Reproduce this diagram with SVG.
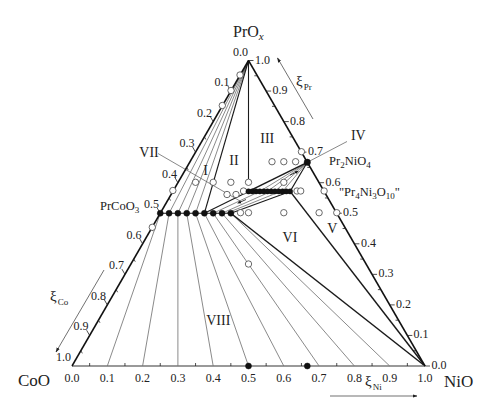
<svg xmlns="http://www.w3.org/2000/svg" width="484" height="410" viewBox="0 0 484 410">
<defs>
<style>
text{font-family:"Liberation Serif","Times New Roman",serif;fill:#222}
.tk{font-size:12px}
.ttl{font-size:17px}
.reg{font-size:14px}
.cmp{font-size:12.5px}
.thin{stroke:#3a3a3a;stroke-width:0.6;fill:none}
.bold{stroke:#1a1a1a;stroke-width:1.5;fill:none}
.med{stroke:#1a1a1a;stroke-width:1.1;fill:none}
.lead{stroke:#555;stroke-width:0.7;fill:none}
.tick{stroke:#222;stroke-width:0.8}
.oc{fill:#fff;stroke:#444;stroke-width:0.8}
.fd{fill:#111;stroke:#111;stroke-width:0.5}
</style>
<marker id="ah" viewBox="0 0 10 10" refX="9" refY="5" markerWidth="7" markerHeight="7" orient="auto-start-reverse">
<path d="M0,1.5 L10,5 L0,8.5 z" fill="#222"/>
</marker>
<marker id="sm" viewBox="0 0 10 10" refX="5" refY="5" markerWidth="5" markerHeight="5" orient="auto">
<path d="M0,1 L10,5 L0,9 z" fill="#111"/>
</marker>
</defs>

<g id="connectors">
<!-- apex fan (region I) -->
<g class="thin">
<line x1="248.5" y1="60.5" x2="169.08" y2="213.25"/>
<line x1="248.5" y1="60.5" x2="177.9" y2="213.25"/>
<line x1="248.5" y1="60.5" x2="186.73" y2="213.25"/>
<line x1="248.5" y1="60.5" x2="195.55" y2="213.25"/>
</g>
<line class="med" x1="248.5" y1="60.5" x2="204.38" y2="213.25"/>
<!-- lower fan (region VIII) -->
<g class="thin">
<line x1="160.25" y1="213.25" x2="107.3" y2="366"/>
<line x1="169.08" y1="213.25" x2="142.6" y2="366"/>
<line x1="177.9" y1="213.25" x2="177.9" y2="366"/>
<line x1="186.73" y1="213.25" x2="213.2" y2="366"/>
<line x1="195.55" y1="213.25" x2="248.5" y2="366"/>
<line x1="204.38" y1="213.25" x2="283.8" y2="366"/>
<line x1="213.2" y1="213.25" x2="319.1" y2="366"/>
<line x1="222.03" y1="213.25" x2="354.4" y2="366"/>
<line x1="230.85" y1="213.25" x2="389.7" y2="366"/>
</g>
<!-- vertical Co=Ni line -->
<line class="med" x1="248.5" y1="60.5" x2="248.5" y2="179"/>
<!-- solid-solution rows -->
<line class="med" x1="160.25" y1="213.25" x2="230.85" y2="213.25"/>
<line class="med" x1="248.5" y1="191.4" x2="290.12" y2="191.4"/>
<!-- region VII tie lines -->
<g class="thin">
<line x1="213.2" y1="213.25" x2="259.85" y2="191.4"/>
<line x1="222.03" y1="213.25" x2="271.2" y2="191.4"/>
<line x1="226.4" y1="213.25" x2="280.7" y2="191.4"/>
</g>
<line class="med" x1="204.38" y1="213.25" x2="248.5" y2="191.4"/>
<line class="med" x1="230.85" y1="213.25" x2="290.12" y2="191.4"/>
<line x1="246" y1="199.5" x2="239" y2="202.7" stroke="#111" stroke-width="0.8" marker-end="url(#sm)"/>
<!-- region IV tie lines -->
<g class="thin">
<line x1="307.3" y1="162.3" x2="259.85" y2="191.4"/>
<line x1="307.3" y1="162.3" x2="267.42" y2="191.4"/>
<line x1="307.3" y1="162.3" x2="274.98" y2="191.4"/>
<line x1="307.3" y1="162.3" x2="282.55" y2="191.4"/>
</g>
<line class="bold" x1="248.5" y1="191.4" x2="307.3" y2="162.3"/>
<line class="med" x1="290.12" y1="191.4" x2="307.3" y2="162.3"/>
<line x1="290" y1="175.2" x2="297" y2="171.8" stroke="#111" stroke-width="0.8" marker-end="url(#sm)"/>
<!-- boundaries to NiO -->
<line class="bold" x1="230.85" y1="213.25" x2="425" y2="366"/>
<line class="bold" x1="290.12" y1="191.4" x2="425" y2="366"/>
<!-- leaders -->
<line class="lead" x1="158" y1="153.5" x2="240" y2="201"/>
<line class="lead" x1="347" y1="141.5" x2="307.3" y2="162.3"/>
</g>

<g id="axes">
<line x1="72" y1="366" x2="425" y2="366" stroke="#777" stroke-width="1.3"/>
<line x1="72" y1="366" x2="248.5" y2="60.5" stroke="#111" stroke-width="1.5"/>
<line x1="425" y1="366" x2="248.5" y2="60.5" stroke="#111" stroke-width="1.5"/>
<!-- left ticks -->
<g class="tick">
<path d="M230.85,91.05 l-3,-5.2 M213.2,121.6 l-3,-5.2 M195.55,152.15 l-3,-5.2 M177.9,182.7 l-3,-5.2 M160.25,213.25 l-3,-5.2 M142.6,243.8 l-3,-5.2 M124.95,274.35 l-3,-5.2 M107.3,304.9 l-3,-5.2 M89.65,335.45 l-3,-5.2"/>
<path d="M239.68,75.78 l1.5,2.6 M222.03,106.33 l1.5,2.6 M204.38,136.88 l1.5,2.6 M186.73,167.43 l1.5,2.6 M169.08,197.98 l1.5,2.6 M151.43,228.53 l1.5,2.6 M133.78,259.08 l1.5,2.6 M116.13,289.63 l1.5,2.6 M98.48,320.18 l1.5,2.6 M80.83,350.73 l1.5,2.6"/>
<!-- right ticks -->
<path d="M248.5,60.5 h5 M266.15,91.05 h5 M283.8,121.6 h5 M301.45,152.15 h5 M319.1,182.7 h5 M336.75,213.25 h5 M354.4,243.8 h5 M372.05,274.35 h5 M389.7,304.9 h5 M407.35,335.45 h5 M425,366 h5"/>
<path d="M257.33,75.78 h-3 M274.98,106.33 h-3 M292.63,136.88 h-3 M310.28,167.43 h-3 M327.93,197.98 h-3 M345.58,228.53 h-3 M363.23,259.08 h-3 M380.88,289.63 h-3 M398.53,320.18 h-3 M416.18,350.73 h-3"/>
<!-- bottom ticks -->
<path d="M89.65,366 v-3 M124.95,366 v-3 M160.25,366 v-3 M195.55,366 v-3 M230.85,366 v-3 M266.15,366 v-3 M301.45,366 v-3 M336.75,366 v-3 M372.05,366 v-3 M407.35,366 v-3"/>
</g>
<!-- left labels -->
<g class="tk" text-anchor="end">
<text x="248" y="55.5">0.0</text>
<text x="229.5" y="86">0.1</text>
<text x="212" y="116.5">0.2</text>
<text x="194.5" y="147">0.3</text>
<text x="177" y="177.5">0.4</text>
<text x="159" y="208">0.5</text>
<text x="141.5" y="238.5">0.6</text>
<text x="124" y="269">0.7</text>
<text x="106" y="299.5">0.8</text>
<text x="88.5" y="330">0.9</text>
<text x="71" y="361">1.0</text>
</g>
<!-- right labels -->
<g class="tk">
<text x="255" y="63.5">1.0</text>
<text x="272.5" y="94">0.9</text>
<text x="290" y="124.5">0.8</text>
<text x="308" y="155">0.7</text>
<text x="325.5" y="185.5">0.6</text>
<text x="343" y="216">0.5</text>
<text x="361" y="246.5">0.4</text>
<text x="378.5" y="277">0.3</text>
<text x="396" y="307.5">0.2</text>
<text x="413.5" y="338">0.1</text>
<text x="431.5" y="369">0.0</text>
</g>
<!-- bottom labels -->
<g class="tk" text-anchor="middle">
<text x="72" y="381.5">0.0</text>
<text x="107.3" y="381.5">0.1</text>
<text x="142.6" y="381.5">0.2</text>
<text x="177.9" y="381.5">0.3</text>
<text x="213.2" y="381.5">0.4</text>
<text x="248.5" y="381.5">0.5</text>
<text x="283.8" y="381.5">0.6</text>
<text x="319.1" y="381.5">0.7</text>
<text x="354.4" y="381.5">0.8</text>
<text x="389.7" y="381.5">0.9</text>
<text x="425" y="381.5">1.0</text>
</g>
<!-- xi arrows -->
<line x1="313" y1="119" x2="277.5" y2="58" stroke="#333" stroke-width="0.7" marker-end="url(#ah)"/>
<line x1="104" y1="270" x2="56" y2="352" stroke="#333" stroke-width="0.7" marker-end="url(#ah)"/>
<line x1="330" y1="396" x2="417" y2="396" stroke="#333" stroke-width="0.7" marker-end="url(#ah)"/>
<text x="296" y="86" style="font-size:15px">ξ<tspan dx="1" dy="4" style="font-size:9px">Pr</tspan></text>
<text x="50" y="301" style="font-size:15px">ξ<tspan dx="1" dy="4" style="font-size:9px">Co</tspan></text>
<text x="365" y="386" style="font-size:15px">ξ<tspan dx="1" dy="4" style="font-size:9px">Ni</tspan></text>
</g>

<g id="PrOx"><text x="233" y="36.5" style="font-size:16px">PrO<tspan dy="3" style="font-size:11px;font-style:italic">x</tspan></text></g>
<g id="CoO"><text class="ttl" x="18" y="385.5">CoO</text></g>
<g id="NiO"><text class="ttl" x="444" y="386.5">NiO</text></g>

<g id="open-circles">
<circle class="oc" cx="240" cy="75" r="3.2"/>
<circle class="oc" cx="231" cy="90.5" r="3.2"/>
<circle class="oc" cx="222.3" cy="105.5" r="3.2"/>
<circle class="oc" cx="172.86" cy="190.5" r="3.2"/>
<circle class="oc" cx="152.3" cy="227.3" r="3.2"/>
<circle class="oc" cx="195.55" cy="182.3" r="3.2"/>
<circle class="oc" cx="213.2" cy="182.3" r="3.2"/>
<circle class="oc" cx="230.85" cy="182.3" r="3.2"/>
<circle class="oc" cx="248.5" cy="182.3" r="3.2"/>
<circle class="oc" cx="283.8" cy="182.3" r="3.2"/>
<circle class="oc" cx="227" cy="194.5" r="3.2"/>
<circle class="oc" cx="236" cy="194.5" r="3.2"/>
<circle class="oc" cx="243.5" cy="191" r="3.2"/>
<circle class="oc" cx="272" cy="161.7" r="3.2"/>
<circle class="oc" cx="283.8" cy="161.7" r="3.2"/>
<circle class="oc" cx="295.6" cy="161.7" r="3.2"/>
<circle class="oc" cx="301.45" cy="151.7" r="3.2"/>
<circle class="oc" cx="297" cy="191" r="3.2"/>
<circle class="oc" cx="300.7" cy="191" r="3.2"/>
<circle class="oc" cx="324.1" cy="191" r="3.2"/>
<circle class="oc" cx="240.5" cy="212.7" r="3.2"/>
<circle class="oc" cx="248.5" cy="212.7" r="3.2"/>
<circle class="oc" cx="283.8" cy="212.7" r="3.2"/>
<circle class="oc" cx="319.1" cy="212.7" r="3.2"/>
<circle class="oc" cx="336.75" cy="212.7" r="3.2"/>
<circle class="oc" cx="248.5" cy="264" r="3.2"/>
</g>

<g id="PrCoO3-row">
<circle class="fd" cx="160.25" cy="213.25" r="3"/>
<circle class="fd" cx="169.08" cy="213.25" r="3"/>
<circle class="fd" cx="177.9" cy="213.25" r="3"/>
<circle class="fd" cx="186.73" cy="213.25" r="3"/>
<circle class="fd" cx="195.55" cy="213.25" r="3"/>
<circle class="fd" cx="204.38" cy="213.25" r="3"/>
<circle class="fd" cx="213.2" cy="213.25" r="3"/>
<circle class="fd" cx="222.03" cy="213.25" r="3"/>
<circle class="fd" cx="230.85" cy="213.25" r="3"/>
<text class="cmp" x="100" y="210">PrCoO<tspan dy="3" style="font-size:9px">3</tspan></text>
</g>

<g id="Pr4-row">
<circle class="fd" cx="248.5" cy="191.4" r="2.6"/>
<circle class="fd" cx="252.28" cy="191.4" r="2.6"/>
<circle class="fd" cx="256.07" cy="191.4" r="2.6"/>
<circle class="fd" cx="259.85" cy="191.4" r="2.6"/>
<circle class="fd" cx="263.63" cy="191.4" r="2.6"/>
<circle class="fd" cx="267.42" cy="191.4" r="2.6"/>
<circle class="fd" cx="271.2" cy="191.4" r="2.6"/>
<circle class="fd" cx="274.98" cy="191.4" r="2.6"/>
<circle class="fd" cx="278.77" cy="191.4" r="2.6"/>
<circle class="fd" cx="282.55" cy="191.4" r="2.6"/>
<circle class="fd" cx="286.33" cy="191.4" r="2.6"/>
<circle class="fd" cx="290.12" cy="191.4" r="2.6"/>
</g>

<g id="Pr2NiO4">
<circle class="fd" cx="307.3" cy="162.3" r="3.2"/>
<text class="cmp" x="329" y="164.5">Pr<tspan dy="3" style="font-size:9px">2</tspan><tspan dy="-3">NiO</tspan><tspan dy="3" style="font-size:9px">4</tspan></text>
</g>
<g id="Pr4Ni3O10">
<text class="cmp" x="339" y="196">"Pr<tspan dy="3" style="font-size:9px">4</tspan><tspan dy="-3">Ni</tspan><tspan dy="3" style="font-size:9px">3</tspan><tspan dy="-3">O</tspan><tspan dy="3" style="font-size:9px">10</tspan><tspan dy="-3">"</tspan></text>
</g>
<g id="axis-dots">
<circle class="fd" cx="248.5" cy="366" r="3"/>
<circle class="fd" cx="307.3" cy="366" r="3"/>
</g>

<g id="regions" class="reg" text-anchor="middle">
<text x="205.7" y="175">I</text>
<text x="234" y="165">II</text>
<text x="267.3" y="143">III</text>
<text x="358.3" y="140">IV</text>
<text x="332.3" y="233">V</text>
<text x="290" y="241.5">VI</text>
<text x="149" y="156.5">VII</text>
<text x="218.3" y="325">VIII</text>
</g>
</svg>
